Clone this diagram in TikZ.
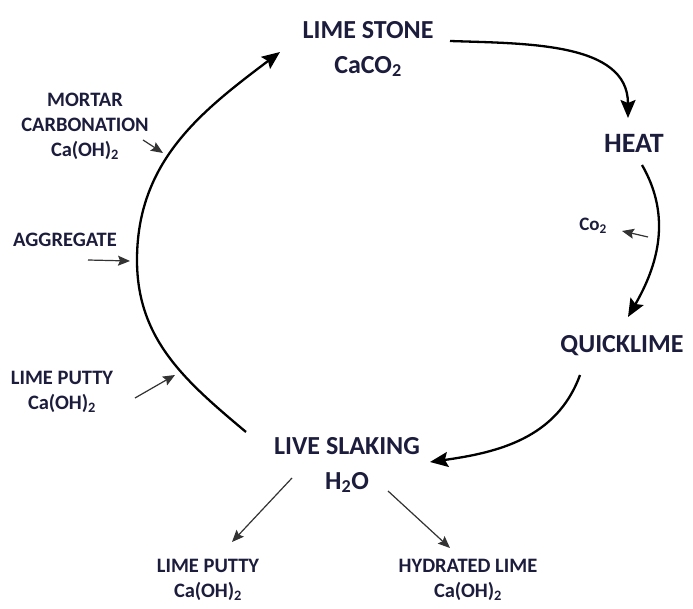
\documentclass[tikz,border=0pt]{standalone}
\usepackage{fontspec}
\setmainfont{Carlito}
\usepackage{xcolor}
\usetikzlibrary{positioning,arrows.meta}
\definecolor{ink}{RGB}{28,28,60}

\begin{document}
\begin{tikzpicture}[
  x=1pt, y=1pt,
  big/.style={text=ink, font=\fontsize{26}{35}\selectfont\bfseries, align=center, inner sep=2pt},
  small/.style={text=ink, font=\fontsize{20.5}{25}\selectfont\bfseries, align=center, inner sep=2pt},
  tiny/.style={text=ink, font=\fontsize{19}{20}\selectfont\bfseries, inner sep=2pt},
  cyc/.style={-{Stealth[length=18pt,width=15pt,inset=3pt]}, line width=2.3pt},
  feed/.style={-{Stealth[length=12pt,width=10pt,inset=2pt]}, line width=1.2pt, draw=black!80, fill=black!80},
]
\useasboundingbox (0,0) rectangle (693,608);
% stages of the cycle
\node[big] (stone) at (368,559) {LIME STONE\\CaCO\textsubscript{2}};
\node[big, font=\fontsize{28}{35}\selectfont\bfseries] (heat) at (634,465) {HEAT};
\node[big] (quick) at (622,262) {QUICKLIME};
\node[big] (slake) at (347,143) {LIVE SLAKING\\H\textsubscript{2}O};
% side labels
\node[small] (putty) at (208,28) {LIME PUTTY\\Ca(OH)\textsubscript{2}};
\node[small] (hydr) at (468,28) {HYDRATED LIME\\Ca(OH)\textsubscript{2}};
\node[small] (mortar) at (85,482) {MORTAR\\CARBONATION\\Ca(OH)\textsubscript{2}};
\node[small] (aggr) at (65,368) {AGGREGATE};
\node[small] (wet) at (62,216) {LIME PUTTY\\Ca(OH)\textsubscript{2}};
\node[tiny] (co) at (593,382) {Co\textsubscript{2}};
% points on the cycle
\coordinate (m1) at (163,455);
\coordinate (a1) at (130,347);
\coordinate (w1) at (175,233);
\coordinate (c1) at (648,371);
% the cycle
\draw[cyc] ([shift={(-101,33)}]slake.center) to[out=140,in=-90] (137,348) to[out=90,in=217] ([shift={(-88,-3)}]stone.center);
\draw[cyc] ([shift={(82,8)}]stone.center) to[out=-2,in=90] ([shift={(-6,25)}]heat.center);
\draw[cyc] ([shift={(8,-22)}]heat.center) to[out=-60,in=60] ([shift={(6,29)}]quick.center);
\draw[cyc] ([shift={(-42,-29)}]quick.center) to[out=-110,in=8] ([shift={(83,3)}]slake.center);
% inputs and outputs
\draw[feed] ([shift={(58,-14)}]mortar.center) -- (m1);
\draw[feed] ([shift={(23,-20)}]aggr.center) -- (a1);
\draw[feed] ([shift={(73,-6)}]wet.center) -- (w1);
\draw[feed] (c1) -- ([shift={(29,-5)}]co.center);
\draw[feed] ([shift={(-55,-13)}]slake.center) -- ([shift={(24,38)}]putty.center);
\draw[feed] ([shift={(41,-26)}]slake.center) -- ([shift={(-18,32)}]hydr.center);
\end{tikzpicture}
\end{document}
